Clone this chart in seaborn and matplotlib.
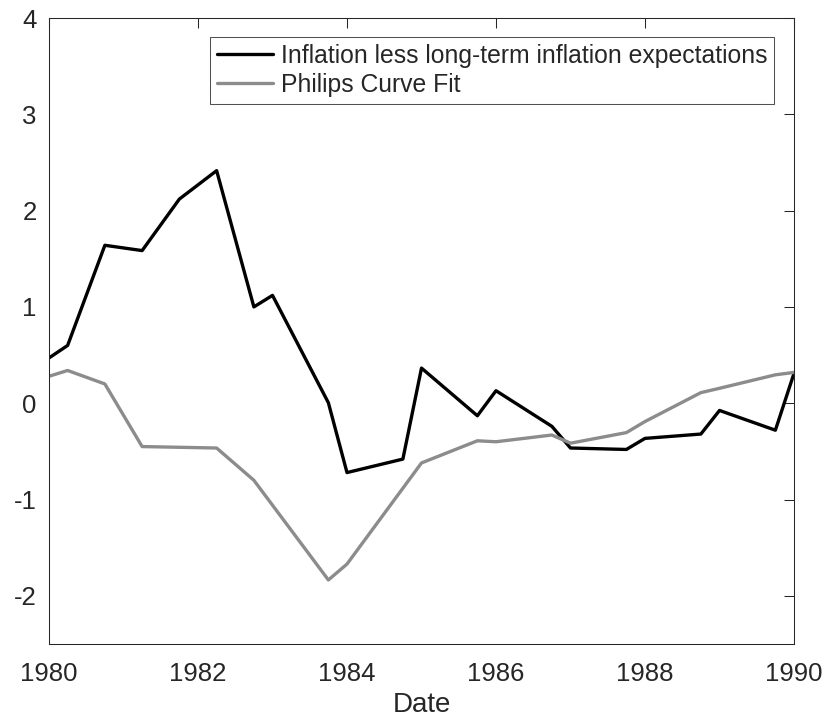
import numpy as np
import pandas as pd
import seaborn as sns
import matplotlib.pyplot as plt

# Inflation gap (black) and Phillips curve fit (gray)
dates_gap = [1980, 1980.25, 1980.75, 1981.25, 1981.75, 1982.25, 1982.75, 1983,
             1983.75, 1984, 1984.75, 1985, 1985.75, 1986, 1986.75, 1987,
             1987.75, 1988, 1988.75, 1989, 1989.75, 1990]
gap = [0.47, 0.60, 1.64, 1.585, 2.12, 2.415, 1.0, 1.12,
       0.005, -0.72, -0.58, 0.365, -0.13, 0.13, -0.24, -0.465,
       -0.48, -0.365, -0.32, -0.075, -0.28, 0.31]

dates_fit = [1980, 1980.25, 1980.75, 1981.25, 1982.25, 1982.75, 1983.75, 1984,
             1985, 1985.75, 1986, 1986.75, 1987, 1987.75, 1988, 1988.75,
             1989, 1989.75, 1990]
fit = [0.28, 0.34, 0.20, -0.45, -0.465, -0.80, -1.835, -1.67,
       -0.62, -0.39, -0.40, -0.33, -0.415, -0.305, -0.19, 0.11,
       0.155, 0.295, 0.32]

labels = ['Inflation less long-term inflation expectations', 'Philips Curve Fit']
x_ticks = [1980, 1982, 1984, 1986, 1988, 1990]
y_ticks = [-2, -1, 0, 1, 2, 3, 4]

sns.set_style('white')
plt.rcParams['font.family'] = ['Liberation Sans', 'DejaVu Sans']

fig = plt.figure(figsize=(8.27, 7.21), dpi=100)
ax = fig.add_axes([49 / 827, 1 - 644 / 721, 745 / 827, 626 / 721])

sns.lineplot(x=dates_gap, y=gap, ax=ax, color='black', linewidth=2.4, label=labels[0])
sns.lineplot(x=dates_fit, y=fit, ax=ax, color='#8c8c8c', linewidth=2.4, label=labels[1])

ax.set_xlim(1980, 1990)
ax.set_ylim(-2.5, 4)
ax.set_xticks(x_ticks)
ax.set_yticks(y_ticks)
ax.set_yticklabels([str(t) for t in y_ticks])
ax.set_xlabel('Date', fontsize=20, color='#262626', labelpad=4)
ax.set_ylabel('')

for s in ax.spines.values():
    s.set_visible(True)
    s.set_color('#262626')
    s.set_linewidth(0.75)
ax.tick_params(direction='in', length=7, width=0.75, colors='#262626',
               labelsize=18.5, top=True, right=True)
ax.tick_params(axis='x', pad=13)
ax.tick_params(axis='y', pad=9)

leg = ax.legend(loc='upper right', bbox_to_anchor=(0.9736, 0.970), fontsize=17.8,
                frameon=True, fancybox=False, edgecolor='#262626',
                handlelength=2.3, handletextpad=0.3, borderpad=0.28,
                labelspacing=0.22, borderaxespad=0)
leg.get_frame().set_linewidth(0.75)

fig.savefig('out.png', dpi=100)
